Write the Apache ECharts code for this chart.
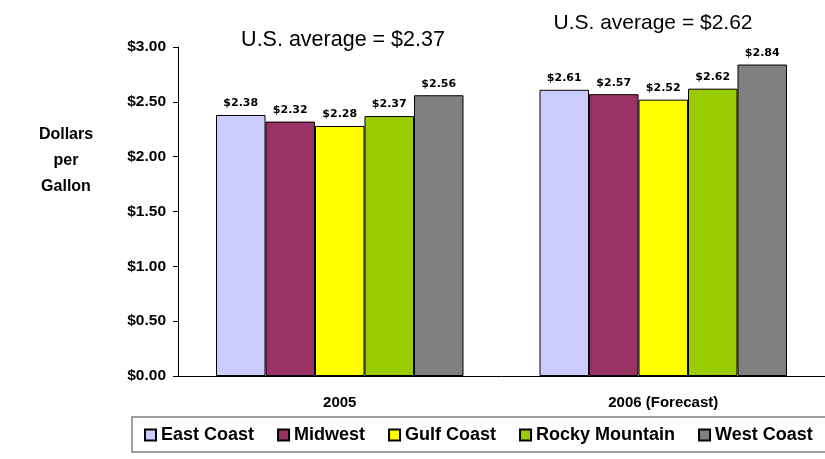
<!DOCTYPE html>
<html><head><meta charset="utf-8">
<script src="https://cdn.jsdelivr.net/npm/echarts@6/dist/echarts.min.js"></script>
<style>html,body{margin:0;padding:0;background:#fff}#c{width:825px;height:459px}</style>
</head><body><div id="c"></div>
<script>
const categories = ['2005', '2006 (Forecast)'];
const seriesNames = ['East Coast', 'Midwest', 'Gulf Coast', 'Rocky Mountain', 'West Coast'];
const eastCoast = [2.38, 2.61];
const midwest = [2.32, 2.57];
const gulfCoast = [2.28, 2.52];
const rockyMountain = [2.37, 2.62];
const westCoast = [2.56, 2.84];
const averages = ['U.S. average = $2.37', 'U.S. average = $2.62'];
const colors = ['#CCCCFF', '#993366', '#FFFF00', '#99CC00', '#808080'];
const values = [eastCoast, midwest, gulfCoast, rockyMountain, westCoast];
const F = 'Liberation Sans, Arial, sans-serif';
const FL = 'DejaVu Sans, Verdana, sans-serif';

const chart = echarts.init(document.getElementById('c'));
chart.setOption({
  animation: false,
  textStyle: {fontFamily: F},
  title: [
    {text: averages[0], left: 338, top: 24, textAlign: 'center', textStyle: {fontFamily: F, fontSize: 21.5, fontWeight: 'normal', color: '#000'}},
    {text: averages[1], left: 648, top: 8, textAlign: 'center', textStyle: {fontFamily: F, fontSize: 21, fontWeight: 'normal', color: '#000'}},
    {text: 'Dollars\nper\nGallon', left: 61, top: 117, textAlign: 'center', textStyle: {fontFamily: F, fontSize: 16, fontWeight: 'bold', color: '#000', lineHeight: 26}}
  ],
  grid: {left: 178, right: 0, top: 47, bottom: 83},
  legend: {
    data: seriesNames,
    left: 132, top: 417, width: 700,
    itemWidth: 11, itemHeight: 11, itemGap: 23,
    icon: 'rect',
    padding: [9, 14, 8, 12],
    borderColor: '#808080', borderWidth: 1.5,
    textStyle: {fontFamily: F, fontSize: 18, fontWeight: 'bold', color: '#000'}
  },
  xAxis: {
    type: 'category', data: categories,
    axisTick: {show: false},
    axisLine: {lineStyle: {color: '#000', width: 1}},
    axisLabel: {fontFamily: F, fontSize: 15, fontWeight: 'bold', color: '#000', margin: 19}
  },
  yAxis: {
    type: 'value', min: 0, max: 3, interval: 0.5,
    splitLine: {show: false},
    axisLine: {show: true, lineStyle: {color: '#000', width: 1}},
    axisTick: {show: true, length: 5, inside: false, lineStyle: {color: '#000'}},
    axisLabel: {fontFamily: F, fontSize: 15.5, fontWeight: 'bold', color: '#000', margin: 12,
      formatter: v => '$' + v.toFixed(2)}
  },
  series: seriesNames.map((n, i) => ({
    name: n, type: 'bar', data: values[i],
    barGap: '0%', barCategoryGap: '23.5%',
    itemStyle: {color: colors[i], borderColor: '#000', borderWidth: 1},
    label: {show: true, position: 'top', distance: 6, fontFamily: FL, fontSize: 11, fontWeight: 'bold', color: '#000',
      formatter: p => '$' + p.value.toFixed(2)}
  }))
});
</script></body></html>
